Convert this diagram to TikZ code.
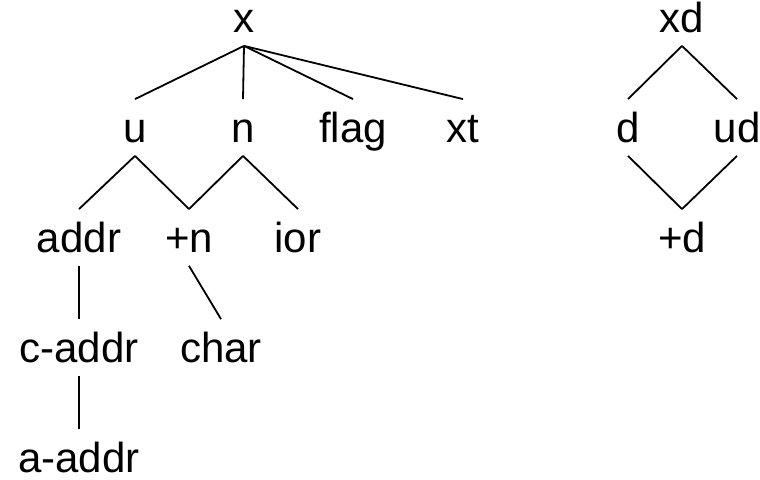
\documentclass[tikz,border=0pt]{standalone}
\usepackage{fontspec}
\setmainfont{Liberation Sans}

\begin{document}
\begin{tikzpicture}[x=0.5pt,y=-0.5pt,line width=0.9pt,
  every node/.style={anchor=base,inner sep=0pt,text height=21.5pt,
    text depth=6pt,font=\fontsize{21}{25}\selectfont}]
  \useasboundingbox (0,0) rectangle (760,480);
  % left tree
  \node (x) at (244,33) {x};
  \node (u) at (135,143) {u};
  \node (n) at (243,143) {n};
  \node (flag) at (353,143) {flag};
  \node (xt) at (463,143) {xt};
  \node (addr) at (79,253) {addr};
  \node (pn) at (189,253) {+n};
  \node (ior) at (298,253) {ior};
  \node (caddr) at (79,363) {c-addr};
  \node (char) at (221,363) {char};
  \node (aaddr) at (79,473) {a-addr};
  \draw (x.south) -- (u.north);
  \draw (x.south) -- (n.north);
  \draw (x.south) -- (flag.north);
  \draw (x.south) -- (xt.north);
  \draw (u.south) -- (addr.north);
  \draw (u.south) -- (pn.north);
  \draw (n.south) -- (pn.north);
  \draw (n.south) -- (ior.north);
  \draw (addr.south) -- (caddr.north);
  \draw (pn.south) -- (char.north);
  \draw (caddr.south) -- (aaddr.north);
  % right diamond
  \node (xd) at (682,33) {xd};
  \node (d) at (628,143) {d};
  \node (ud) at (737,143) {ud};
  \node (pd) at (682,253) {+d};
  \draw (xd.south) -- (d.north);
  \draw (xd.south) -- (ud.north);
  \draw (d.south) -- (pd.north);
  \draw (ud.south) -- (pd.north);
\end{tikzpicture}
\end{document}
